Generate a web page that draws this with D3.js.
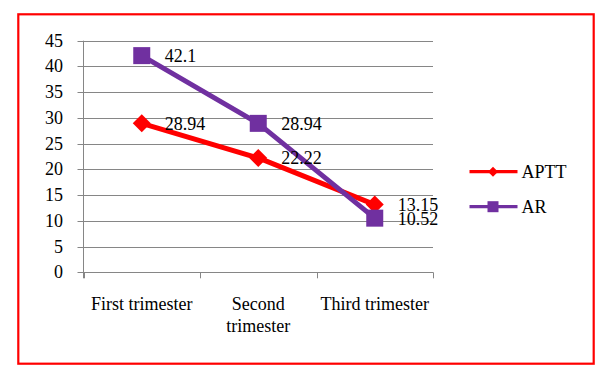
<!DOCTYPE html>
<html><head><meta charset="utf-8">
<script src="https://cdn.jsdelivr.net/npm/d3@7"></script>
<style>body{margin:0;background:#fff}svg{display:block}</style>
</head><body><svg id="c" width="612" height="378" font-family="'Liberation Serif', 'Times New Roman', 'DejaVu Serif', serif"></svg>
<script>
const categories = [["First trimester"], ["Second", "trimester"], ["Third trimester"]];
const categoryKeys = ["First trimester", "Second trimester", "Third trimester"];
const aptt = [28.94, 22.22, 13.15];
const ar = [42.1, 28.94, 10.52];
const yTicks = [0, 5, 10, 15, 20, 25, 30, 35, 40, 45];
const seriesNames = ["APTT", "AR"];
const colors = ["#FF0000", "#7030A0"];

const svg = d3.select("#c");
svg.append("rect").attr("x", 18.3).attr("y", 14.3).attr("width", 575.4).attr("height", 349.4)
  .attr("fill", "none").attr("stroke", "#FF0000").attr("stroke-width", 2.2);

const pLeft = 83.5, pRight = 433, pTop = 40.7, pBottom = 272.3;
const x = d3.scaleBand().domain(categoryKeys).range([pLeft, pRight]);
const y = d3.scaleLinear().domain([0, 45]).range([pBottom, pTop]);

const g = svg.append("g");
g.selectAll("line.grid").data(yTicks).join("line")
  .attr("x1", pLeft - 6).attr("x2", pRight).attr("y1", d => Math.round(y(d)) + 0.5).attr("y2", d => Math.round(y(d)) + 0.5)
  .attr("stroke", "#868686").attr("stroke-width", 1);
g.append("line").attr("x1", pLeft).attr("x2", pLeft).attr("y1", pTop).attr("y2", pBottom + 6).attr("stroke", "#868686");
const edges = categoryKeys.map(c => x(c)).concat([pRight]);
g.selectAll("line.xt").data(edges).join("line")
  .attr("x1", d => Math.round(d) + 0.5).attr("x2", d => Math.round(d) + 0.5)
  .attr("y1", pBottom).attr("y2", pBottom + 6).attr("stroke", "#868686");

const fs = 18;
g.selectAll("text.yl").data(yTicks).join("text")
  .attr("x", 63).attr("y", d => y(d) + 6).attr("text-anchor", "end")
  .attr("font-size", fs).attr("fill", "#000").text(d => d);

categories.forEach((lines, i) => {
  const cx = x(categoryKeys[i]) + x.bandwidth() / 2;
  lines.forEach((t, j) => {
    g.append("text").attr("x", cx).attr("y", 310 + j * 22).attr("text-anchor", "middle")
      .attr("font-size", fs).attr("fill", "#000").text(t);
  });
});

const cxOf = i => x(categoryKeys[i]) + x.bandwidth() / 2;
const line = d3.line().x((d, i) => cxOf(i)).y(d => y(d));
const data = [aptt, ar];

data.forEach((vals, s) => {
  g.append("path").attr("d", line(vals)).attr("fill", "none").attr("stroke", colors[s])
    .attr("stroke-width", 5).attr("stroke-linejoin", "round");
});
const diamond = (cx, cy, r) => `M${cx},${cy - r}L${cx + r},${cy}L${cx},${cy + r}L${cx - r},${cy}Z`;
aptt.forEach((v, i) => {
  g.append("path").attr("d", diamond(cxOf(i), y(v), 9)).attr("fill", colors[0]);
});
ar.forEach((v, i) => {
  g.append("rect").attr("x", cxOf(i) - 8.5).attr("y", y(v) - 8.5).attr("width", 17).attr("height", 17).attr("fill", colors[1]);
});
data.forEach((vals, s) => {
  vals.forEach((v, i) => {
    g.append("text").attr("x", cxOf(i) + 23).attr("y", y(v) + 6.5)
      .attr("font-size", fs).attr("fill", "#000").text(v);
  });
});

const legY = [171.7, 206.7];
seriesNames.forEach((n, s) => {
  const ly = legY[s];
  g.append("line").attr("x1", 469.5).attr("x2", 517.5).attr("y1", ly).attr("y2", ly)
    .attr("stroke", colors[s]).attr("stroke-width", 3.3);
  if (s === 0) g.append("path").attr("d", diamond(493, ly, 5)).attr("fill", colors[0]);
  else g.append("rect").attr("x", 493 - 5.5).attr("y", ly - 5.5).attr("width", 11).attr("height", 11).attr("fill", colors[1]);
  g.append("text").attr("x", 521.5).attr("y", ly + 6.5).attr("font-size", fs).attr("fill", "#000").text(n);
});
</script></body></html>
